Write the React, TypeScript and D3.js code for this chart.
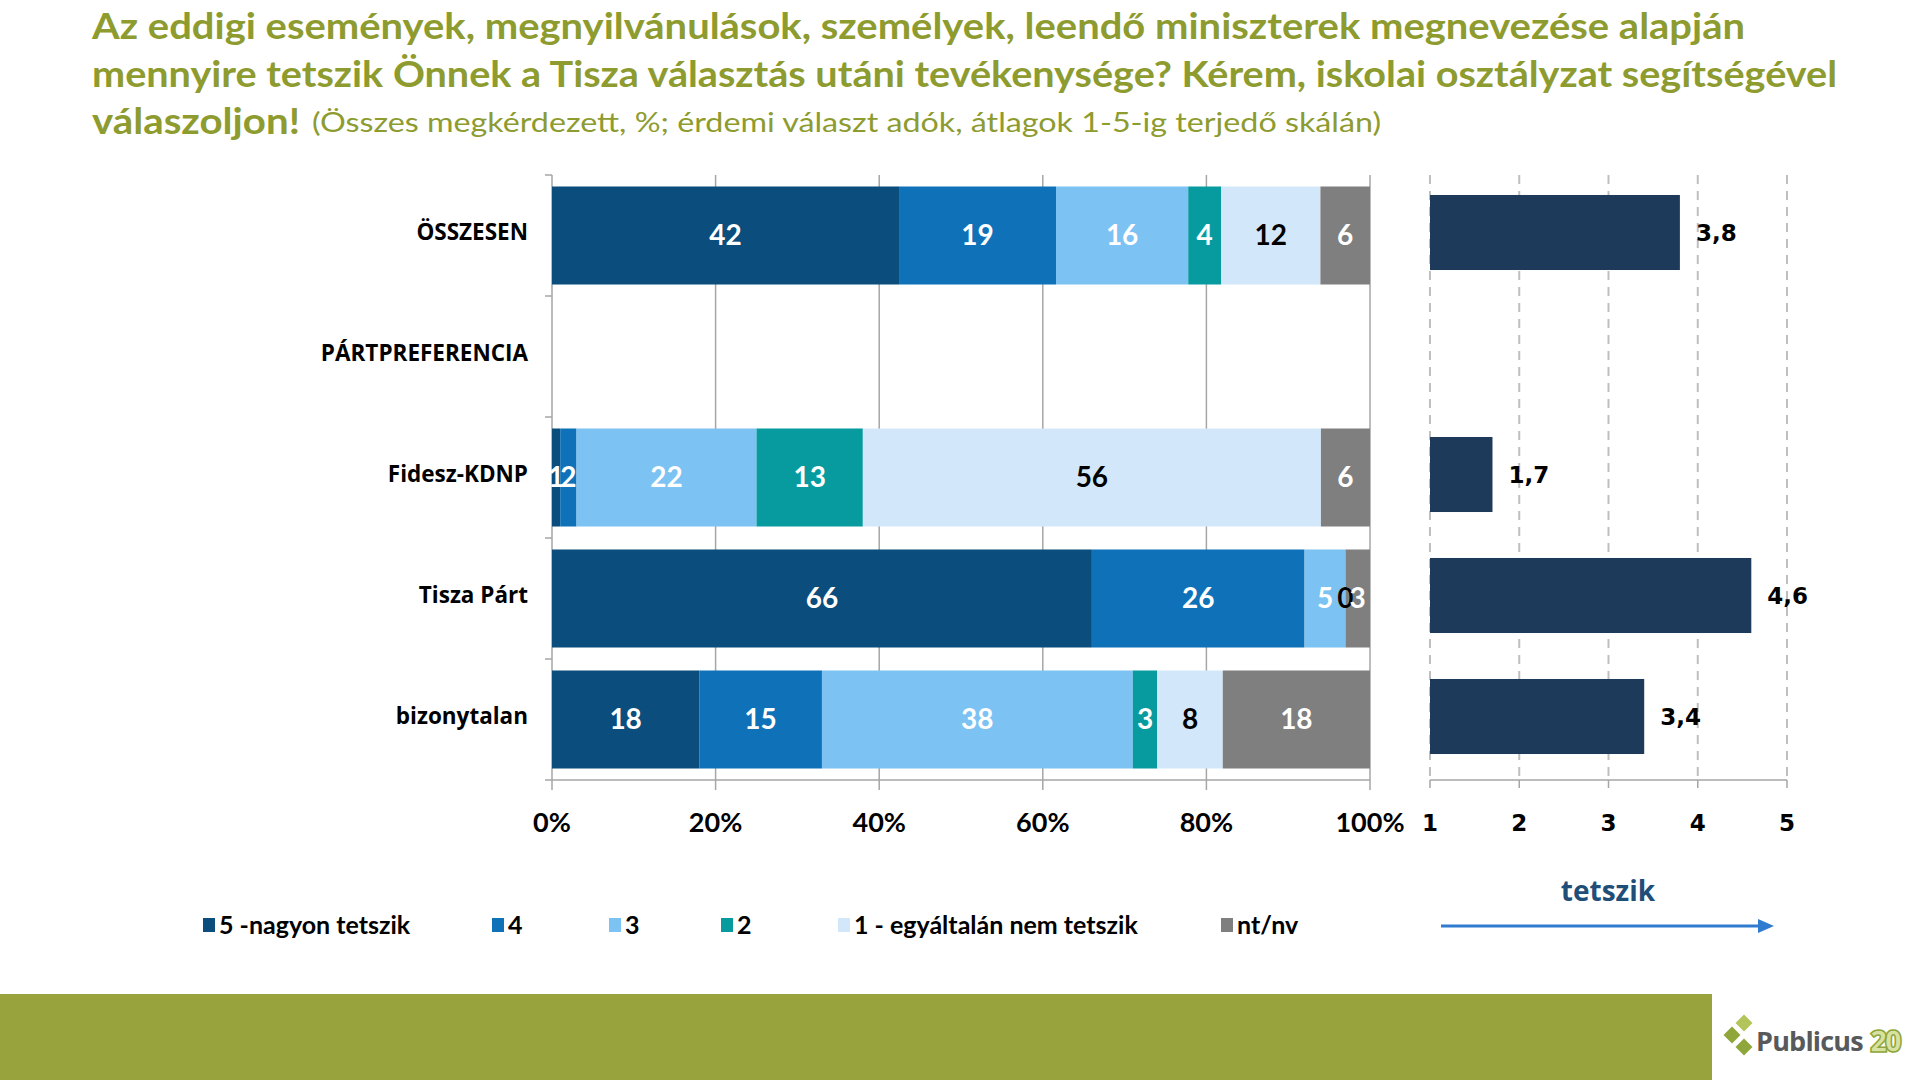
import React from 'react';
import * as d3 from 'd3';

// rows of the chart (PÁRTPREFERENCIA is a heading row with no data)
const categories = ['ÖSSZESEN', 'PÁRTPREFERENCIA', 'Fidesz-KDNP', 'Tisza Párt', 'bizonytalan'];
const seriesNames = ['5 -nagyon tetszik', '4', '3', '2', '1 - egyáltalán nem tetszik', 'nt/nv'];

const grade5 = [42, null, 1, 66, 18];
const grade4 = [19, null, 2, 26, 15];
const grade3 = [16, null, 22, 5, 38];
const grade2 = [4, null, 13, 0, 3];
const grade1 = [12, null, 56, 0, 8];
const noAnswer = [6, null, 6, 3, 18];

const averages = [3.8, null, 1.7, 4.6, 3.4];

const pctTicks = [0, 0.2, 0.4, 0.6, 0.8, 1];
const avgTicks = [1, 2, 3, 4, 5];

const titleLines = [
  'Az eddigi események, megnyilvánulások, személyek, leendő miniszterek megnevezése alapján',
  'mennyire tetszik Önnek a Tisza választás utáni tevékenysége? Kérem, iskolai osztályzat segítségével',
];
const titleEnd = 'válaszoljon!';
const subtitle = '(Összes megkérdezett, %; érdemi választ adók, átlagok 1-5-ig terjedő skálán)';

const colors = ['#0b4d7c', '#0f72b8', '#7cc2f2', '#079ba0', '#d2e8fa', '#7f7f7f'];
const labelColors = ['#fff', '#fff', '#fff', '#fff', '#000', '#fff'];

const GREEN = '#8d9b2f';
const calibri = 'Lato, "Open Sans", sans-serif';
const verdana = '"DejaVu Sans", Verdana, sans-serif';

export default function App() {
  const W = 1920;
  const H = 1080;

  // left stacked chart
  const x = d3.scaleLinear().domain([0, 1]).range([552, 1370]);
  const y = d3.scaleBand().domain(categories).range([175, 780]).paddingInner(0.19).paddingOuter(0.095);
  // right average chart
  const xa = d3.scaleLinear().domain([1, 5]).range([1430, 1787]);
  const ya = d3.scaleBand().domain(categories).range([175, 780]).paddingInner(0.38).paddingOuter(0.19);

  const allSeries = [grade5, grade4, grade3, grade2, grade1, noAnswer];
  const rows = categories
    .map((c, i) => {
      const r: any = { cat: c };
      seriesNames.forEach((k, j) => (r[k] = allSeries[j][i]));
      return r;
    })
    .filter(r => r[seriesNames[0]] != null);

  const stacked = d3.stack<any>().keys(seriesNames).offset(d3.stackOffsetExpand)(rows);

  const step = y.step();
  const boundaries = d3.range(categories.length + 1).map(i => 175 + i * step);

  const legendX = [203, 492, 609, 721, 838, 1221];

  return (
    <svg width={W} height={H} style={{ position: 'absolute', left: 0, top: 0, background: '#fff' }}>
      {/* title */}
      <g fill={GREEN} fontFamily={calibri} fontWeight="bold">
        <text x={92} y={39} fontSize={36} textLength={1653} lengthAdjust="spacingAndGlyphs">{titleLines[0]}</text>
        <text x={92} y={87} fontSize={36} textLength={1745} lengthAdjust="spacingAndGlyphs">{titleLines[1]}</text>
        <text x={92} y={134} fontSize={37} textLength={208} lengthAdjust="spacingAndGlyphs">{titleEnd}</text>
        <text x={312} y={132} fontSize={27} fontWeight="normal" textLength={1069} lengthAdjust="spacingAndGlyphs">{subtitle}</text>
      </g>

      {/* left chart gridlines */}
      <g stroke="#a6a6a6" strokeWidth={1.5}>
        {pctTicks.slice(1).map(t => (
          <line key={t} x1={x(t)} x2={x(t)} y1={175} y2={790} />
        ))}
        <line x1={x(0)} x2={x(0)} y1={175} y2={790} />
        <line x1={545} x2={x(1)} y1={780} y2={780} />
        {boundaries.slice(0, -1).map((b, i) => (
          <line key={i} x1={545} x2={x(0)} y1={b} y2={b} />
        ))}
      </g>

      {/* stacked bars */}
      {stacked.map((s, j) => (
        <g key={s.key} fill={colors[j]}>
          {s.map(d => (
            <rect key={d.data.cat} x={x(d[0])} y={y(d.data.cat)} width={x(d[1]) - x(d[0])} height={y.bandwidth()} />
          ))}
        </g>
      ))}
      {stacked.map((s, j) => (
        <g key={s.key} fill={labelColors[j]} fontFamily={calibri} fontWeight="bold" fontSize={28} textAnchor="middle">
          {s.map(d => (
            <text key={d.data.cat} x={x((d[0] + d[1]) / 2)} y={y(d.data.cat)! + y.bandwidth() / 2} dy="0.35em">
              {d.data[s.key]}
            </text>
          ))}
        </g>
      ))}

      {/* category labels */}
      <g fontFamily='"Open Sans", sans-serif' fontWeight="bold" fontSize={22.5} textAnchor="end" fill="#000">
        {categories.map(c => (
          <text key={c} x={528} y={y(c)! + y.bandwidth() / 2 - 3} dy="0.35em">{c}</text>
        ))}
      </g>

      {/* percent axis labels */}
      <g fontFamily={calibri} fontWeight="bold" fontSize={27} textAnchor="middle" fill="#000">
        {pctTicks.map(t => (
          <text key={t} x={x(t)} y={823} dy="0.35em">{d3.format('.0%')(t)}</text>
        ))}
      </g>

      {/* right chart */}
      <g stroke="#bfbfbf" strokeWidth={2} strokeDasharray="9,7">
        {avgTicks.map(t => (
          <line key={t} x1={xa(t)} x2={xa(t)} y1={175} y2={780} />
        ))}
      </g>
      <g stroke="#a6a6a6" strokeWidth={1.5}>
        <line x1={xa(1)} x2={xa(5)} y1={780} y2={780} />
        {avgTicks.map(t => (
          <line key={t} x1={xa(t)} x2={xa(t)} y1={780} y2={788} />
        ))}
      </g>
      {categories.map((c, i) =>
        averages[i] == null ? null : (
          <g key={c}>
            <rect x={xa(1)} y={ya(c)! - 3} width={xa(averages[i]!) - xa(1)} height={ya.bandwidth()} fill="#1e3a5a" />
            <text x={xa(averages[i]!) + 16} y={ya(c)! + ya.bandwidth() / 2 - 3} dy="0.35em" fontFamily={verdana}
              fontWeight="bold" fontSize={23} fill="#000">
              {d3.format('.1f')(averages[i]!).replace('.', ',')}
            </text>
          </g>
        )
      )}
      <g fontFamily={verdana} fontWeight="bold" fontSize={23} textAnchor="middle" fill="#000">
        {avgTicks.map(t => (
          <text key={t} x={xa(t)} y={823} dy="0.35em">{t}</text>
        ))}
      </g>

      {/* legend */}
      <g fontFamily={calibri} fontWeight="bold" fontSize={25} fill="#000">
        {seriesNames.map((s, i) => (
          <g key={s}>
            <rect x={legendX[i]} y={918} width={12} height={14} fill={colors[i]} />
            <text x={legendX[i] + 16} y={925} dy="0.35em">{s}</text>
          </g>
        ))}
      </g>

      {/* direction arrow */}
      <text x={1608} y={901} textAnchor="middle" fontFamily='"Open Sans", sans-serif' fontWeight="bold" fontSize={28}
        fill="#1f4e79">tetszik</text>
      <line x1={1441} x2={1760} y1={926} y2={926} stroke="#2e7bcf" strokeWidth={3} />
      <path d="M1758,919 L1774,926 L1758,933 Z" fill="#2e7bcf" />

      {/* footer */}
      <rect x={0} y={994} width={1712} height={86} fill="#99a33e" />
      <g>
        <rect x={1726} y={1029} width={12} height={12} fill="#8fa63a" transform="rotate(45 1732 1035)" />
        <rect x={1738} y={1017} width={12} height={12} fill="#b3c45a" transform="rotate(45 1744 1023)" />
        <rect x={1738} y={1041} width={12} height={12} fill="#8fa63a" transform="rotate(45 1744 1047)" />
        <text x={1756} y={1051} fontFamily='"Open Sans", sans-serif' fontWeight="bold" fontSize={27} fill="#58595b"
          letterSpacing={-0.8}>Publicus</text>
        <text x={1870} y={1052} fontFamily='"Open Sans", sans-serif' fontWeight="800" fontSize={30} fill="#d8e2a0"
          stroke="#8fa63a" strokeWidth={1.5} letterSpacing={-3}>20</text>
      </g>
    </svg>
  );
}
